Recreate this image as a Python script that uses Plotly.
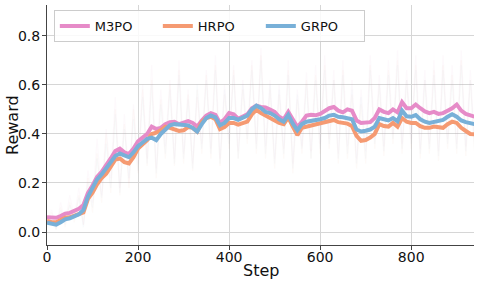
import plotly.graph_objects as go

steps = list(range(0, 950, 10))

m3po = [0.060, 0.058, 0.058, 0.065, 0.075, 0.078, 0.088, 0.095, 0.110, 0.160,
        0.190, 0.225, 0.245, 0.270, 0.300, 0.330, 0.340, 0.325, 0.318, 0.340,
        0.370, 0.385, 0.400, 0.430, 0.420, 0.425, 0.440, 0.448, 0.450, 0.440,
        0.448, 0.452, 0.445, 0.430, 0.455, 0.475, 0.485, 0.478, 0.445, 0.460,
        0.485, 0.480, 0.462, 0.470, 0.480, 0.505, 0.515, 0.510, 0.508, 0.500,
        0.490, 0.470, 0.460, 0.490, 0.455, 0.428, 0.450, 0.475, 0.478, 0.476,
        0.482, 0.492, 0.505, 0.510, 0.495, 0.488, 0.500, 0.495, 0.455, 0.445,
        0.446, 0.448, 0.465, 0.500, 0.490, 0.485, 0.500, 0.488, 0.530, 0.505,
        0.505, 0.520, 0.505, 0.492, 0.485, 0.490, 0.482, 0.485, 0.495, 0.505,
        0.520, 0.495, 0.482, 0.475, 0.470]

hrpo = [0.045, 0.040, 0.040, 0.048, 0.058, 0.060, 0.066, 0.070, 0.080, 0.135,
        0.160, 0.195, 0.220, 0.238, 0.270, 0.295, 0.300, 0.285, 0.280, 0.305,
        0.340, 0.355, 0.375, 0.400, 0.405, 0.415, 0.430, 0.425, 0.420, 0.412,
        0.415, 0.428, 0.425, 0.410, 0.450, 0.465, 0.470, 0.460, 0.420, 0.428,
        0.445, 0.445, 0.438, 0.442, 0.450, 0.480, 0.498, 0.485, 0.475, 0.465,
        0.457, 0.445, 0.440, 0.468, 0.430, 0.395, 0.425, 0.430, 0.433, 0.437,
        0.443, 0.448, 0.455, 0.457, 0.448, 0.445, 0.442, 0.432, 0.392, 0.372,
        0.375, 0.385, 0.400, 0.440, 0.432, 0.430, 0.445, 0.430, 0.465, 0.450,
        0.445, 0.445, 0.432, 0.425, 0.425, 0.430, 0.428, 0.425, 0.440, 0.450,
        0.445, 0.425, 0.412, 0.400, 0.398]

grpo = [0.038, 0.032, 0.030, 0.040, 0.052, 0.056, 0.065, 0.072, 0.090, 0.145,
        0.180, 0.215, 0.235, 0.258, 0.285, 0.310, 0.320, 0.312, 0.305, 0.325,
        0.350, 0.365, 0.380, 0.385, 0.375, 0.400, 0.420, 0.435, 0.440, 0.438,
        0.440, 0.435, 0.425, 0.410, 0.440, 0.465, 0.475, 0.468, 0.435, 0.445,
        0.465, 0.465, 0.458, 0.465, 0.475, 0.500, 0.515, 0.505, 0.490, 0.485,
        0.475, 0.460, 0.450, 0.478, 0.442, 0.415, 0.440, 0.450, 0.452, 0.455,
        0.460, 0.465, 0.475, 0.478, 0.470, 0.468, 0.465, 0.460, 0.418, 0.410,
        0.413, 0.418, 0.430, 0.465, 0.460, 0.455, 0.465, 0.452, 0.495, 0.472,
        0.470, 0.477, 0.460, 0.450, 0.445, 0.450, 0.452, 0.457, 0.470, 0.480,
        0.470, 0.455, 0.448, 0.445, 0.440]

m3po_raw = [0.05, 0.09, 0.02, 0.12, 0.04, 0.15, 0.06, 0.18, 0.03, 0.25,
            0.12, 0.38, 0.15, 0.42, 0.22, 0.55, 0.18, 0.48, 0.20, 0.52,
            0.28, 0.60, 0.30, 0.68, 0.26, 0.58, 0.35, 0.62, 0.30, 0.70,
            0.32, 0.58, 0.28, 0.55, 0.36, 0.66, 0.34, 0.72, 0.30, 0.60,
            0.38, 0.68, 0.33, 0.62, 0.40, 0.70, 0.36, 0.75, 0.35, 0.62,
            0.30, 0.60, 0.34, 0.70, 0.28, 0.58, 0.35, 0.65, 0.33, 0.68,
            0.36, 0.72, 0.38, 0.66, 0.32, 0.70, 0.35, 0.62, 0.30, 0.58,
            0.33, 0.72, 0.38, 0.64, 0.35, 0.70, 0.40, 0.74, 0.36, 0.66,
            0.38, 0.72, 0.34, 0.66, 0.36, 0.70, 0.33, 0.72, 0.38, 0.68,
            0.36, 0.74, 0.35, 0.66, 0.34]

hrpo_raw = [0.03, 0.08, 0.01, 0.10, 0.02, 0.12, 0.04, 0.15, 0.03, 0.22,
            0.08, 0.32, 0.12, 0.40, 0.16, 0.50, 0.15, 0.44, 0.18, 0.50,
            0.24, 0.58, 0.27, 0.62, 0.22, 0.54, 0.30, 0.60, 0.27, 0.66,
            0.28, 0.56, 0.25, 0.58, 0.32, 0.64, 0.30, 0.68, 0.27, 0.56,
            0.34, 0.66, 0.30, 0.58, 0.36, 0.68, 0.32, 0.72, 0.30, 0.58,
            0.26, 0.56, 0.30, 0.66, 0.24, 0.54, 0.32, 0.62, 0.30, 0.64,
            0.32, 0.68, 0.34, 0.62, 0.28, 0.66, 0.30, 0.56, 0.26, 0.52,
            0.28, 0.68, 0.34, 0.60, 0.31, 0.66, 0.36, 0.70, 0.32, 0.62,
            0.34, 0.68, 0.30, 0.62, 0.32, 0.66, 0.29, 0.68, 0.34, 0.64,
            0.32, 0.70, 0.31, 0.62, 0.30]

grpo_raw = [0.02, 0.06, 0.01, 0.09, 0.03, 0.11, 0.05, 0.14, 0.02, 0.20,
            0.10, 0.30, 0.14, 0.36, 0.18, 0.48, 0.16, 0.42, 0.22, 0.46,
            0.25, 0.55, 0.28, 0.60, 0.24, 0.52, 0.32, 0.58, 0.28, 0.64,
            0.30, 0.54, 0.26, 0.60, 0.34, 0.62, 0.32, 0.66, 0.28, 0.58,
            0.36, 0.64, 0.30, 0.60, 0.38, 0.66, 0.34, 0.70, 0.32, 0.60,
            0.28, 0.58, 0.32, 0.64, 0.26, 0.56, 0.34, 0.60, 0.30, 0.62,
            0.34, 0.66, 0.36, 0.62, 0.30, 0.64, 0.32, 0.58, 0.28, 0.55,
            0.30, 0.66, 0.36, 0.60, 0.33, 0.64, 0.38, 0.68, 0.34, 0.62,
            0.36, 0.66, 0.32, 0.62, 0.34, 0.64, 0.31, 0.66, 0.36, 0.62,
            0.34, 0.68, 0.33, 0.62, 0.32]

names = ["M3PO", "HRPO", "GRPO"]
colors = ["#e68bc8", "#f59a72", "#78b0d8"]
smooth = [m3po, hrpo, grpo]
raw = [m3po_raw, hrpo_raw, grpo_raw]

fig = go.Figure()
for r, c in zip(raw, colors):
    fig.add_trace(go.Scatter(x=steps, y=r, mode="lines", showlegend=False,
                             line=dict(color=c, width=1), opacity=0.045,
                             hoverinfo="skip"))
for n, s, c in zip(names, smooth, colors):
    fig.add_trace(go.Scatter(x=steps, y=s, mode="lines", name=n,
                             line=dict(color=c, width=4)))

axis_common = dict(
    showline=True, linecolor="#444", linewidth=1,
    ticks="outside", ticklen=4, tickcolor="#444",
    showgrid=True, gridcolor="#d6d6d6", gridwidth=1,
    zeroline=False, tickfont=dict(size=14, color="#111"),
    automargin=False,
)

fig.update_layout(
    width=479, height=285,
    margin=dict(l=47, r=5, t=5, b=40),
    plot_bgcolor="white", paper_bgcolor="white",
    font=dict(family="DejaVu Sans", color="#111"),
    xaxis=dict(range=[0, 938], tickvals=[0, 200, 400, 600, 800],
               ticklabelstandoff=-5, **axis_common),
    yaxis=dict(range=[-0.053, 0.926], tickvals=[0.0, 0.2, 0.4, 0.6, 0.8],
               tickformat=".1f", ticklabelstandoff=-1, **axis_common),
    legend=dict(orientation="h", x=0.016, y=0.979, xanchor="left", yanchor="top",
                bgcolor="rgba(255,255,255,0.85)", bordercolor="#cccccc",
                borderwidth=1, font=dict(size=13),
                entrywidth=58, entrywidthmode="pixels"),
    annotations=[
        dict(text="Step", xref="paper", yref="paper", x=0.5, y=0, yshift=-25,
             xanchor="center", yanchor="middle", showarrow=False,
             font=dict(size=16, color="#111")),
        dict(text="Reward", xref="paper", yref="paper", x=0, y=0.5, xshift=-35,
             xanchor="center", yanchor="middle", showarrow=False, textangle=-90,
             font=dict(size=16, color="#111")),
    ],
)

fig.write_html("out.html", post_script="document.body.style.margin='0';",
               config={"displayModeBar": False})
